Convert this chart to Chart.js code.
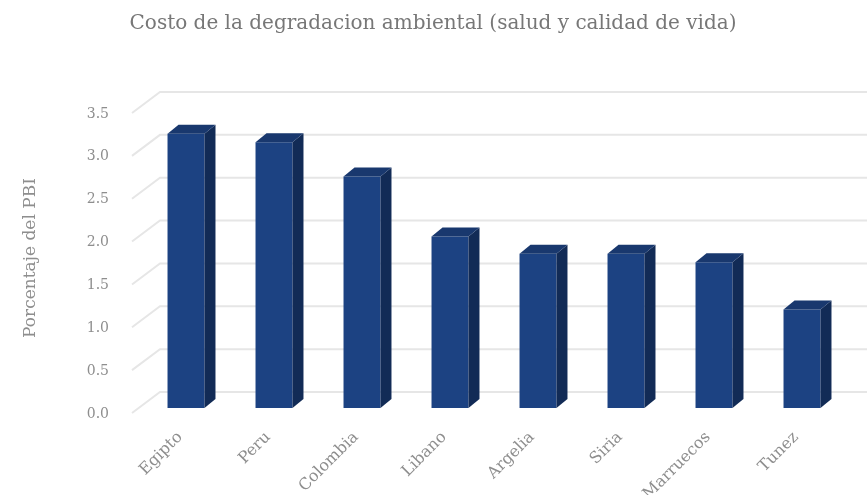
<!DOCTYPE html>
<html>
<head>
<meta charset="utf-8">
<script src="https://cdn.jsdelivr.net/npm/chart.js@4"></script>
<style>
  body { margin: 0; background: #fff; }
  #wrap { width: 867px; height: 495px; }
</style>
</head>
<body>
<div id="wrap"><canvas id="myChart" width="867" height="495"></canvas></div>
<script>
// data
const categories = ["Egipto", "Peru", "Colombia", "Libano", "Argelia", "Siria", "Marruecos", "Tunez"];
const values = [3.2, 3.1, 2.7, 2.0, 1.8, 1.8, 1.7, 1.15];
const yTicks = [0, 0.5, 1.0, 1.5, 2.0, 2.5, 3.0, 3.5];

const chartTitle = "Costo de la degradacion ambiental (salud y calidad de vida)";
const yTitle = "Porcentaje del PBI";

const FONT = "'DejaVu Serif', serif";
const GREY = "#8e8e8e";

// fake 3D: back wall grid + bar sides/tops
const bar3d = {
    id: "bar3d",
    beforeDatasetsDraw(chart) {
        const { ctx, chartArea, scales } = chart;
        ctx.save();
        ctx.strokeStyle = "#e6e6e6";
        ctx.lineWidth = 2;
        yTicks.forEach(v => {
            const py = scales.y.getPixelForValue(v);
            ctx.beginPath();
            ctx.moveTo(chartArea.left - 10, py + 5);
            ctx.lineTo(chartArea.left + 18, py - 16);
            ctx.lineTo(chart.width, py - 16);
            ctx.stroke();
        });
        ctx.restore();
    },
    afterDatasetsDraw(chart) {
        const ctx = chart.ctx;
        const meta = chart.getDatasetMeta(0);
        const dx = 11, dy = 9;
        ctx.save();
        meta.data.forEach(bar => {
            const { x, y, base, width } = bar.getProps(["x", "y", "base", "width"], true);
            const l = x - width / 2, r = x + width / 2;
            // side
            ctx.fillStyle = "#122b56";
            ctx.beginPath();
            ctx.moveTo(r, y);
            ctx.lineTo(r + dx, y - dy);
            ctx.lineTo(r + dx, base - dy);
            ctx.lineTo(r, base);
            ctx.closePath();
            ctx.fill();
            // top
            ctx.fillStyle = "#19386e";
            ctx.beginPath();
            ctx.moveTo(l, y);
            ctx.lineTo(l + dx, y - dy);
            ctx.lineTo(r + dx, y - dy);
            ctx.lineTo(r, y);
            ctx.closePath();
            ctx.fill();
        });
        ctx.restore();
    }
};

const ctx = document.getElementById("myChart").getContext("2d");
new Chart(ctx, {
    type: "bar",
    data: {
        labels: categories,
        datasets: [{
            data: values,
            backgroundColor: "#1c4282",
            borderWidth: 0,
            barPercentage: 0.42,
            categoryPercentage: 1
        }]
    },
    options: {
        responsive: false,
        animation: false,
        layout: { padding: { left: 20, right: 21, bottom: 0 } },
        plugins: {
            legend: { display: false },
            tooltip: { enabled: false },
            title: {
                display: true,
                text: chartTitle,
                color: "#777",
                font: { family: FONT, size: 20, weight: "normal" },
                padding: { top: 12, bottom: 72 }
            }
        },
        scales: {
            x: {
                grid: { display: false },
                border: { display: false },
                ticks: {
                    color: GREY,
                    font: { family: FONT, size: 16 },
                    minRotation: 45,
                    maxRotation: 45,
                    padding: 12,
                    labelOffset: -6
                },
                afterFit: s => { s.height = 87; }
            },
            y: {
                min: 0,
                max: 3.5,
                grid: { display: false },
                border: { display: false },
                ticks: {
                    stepSize: 0.5,
                    color: GREY,
                    font: { family: FONT, size: 14 },
                    padding: 25,
                    labelOffset: 6,
                    callback: v => Number(v).toFixed(1)
                },
                title: {
                    display: true,
                    text: yTitle,
                    color: GREY,
                    font: { family: FONT, size: 17 },
                    padding: 0
                },
                afterFit: s => { s.width = 122; }
            }
        }
    },
    plugins: [bar3d]
});
</script>
</body>
</html>
